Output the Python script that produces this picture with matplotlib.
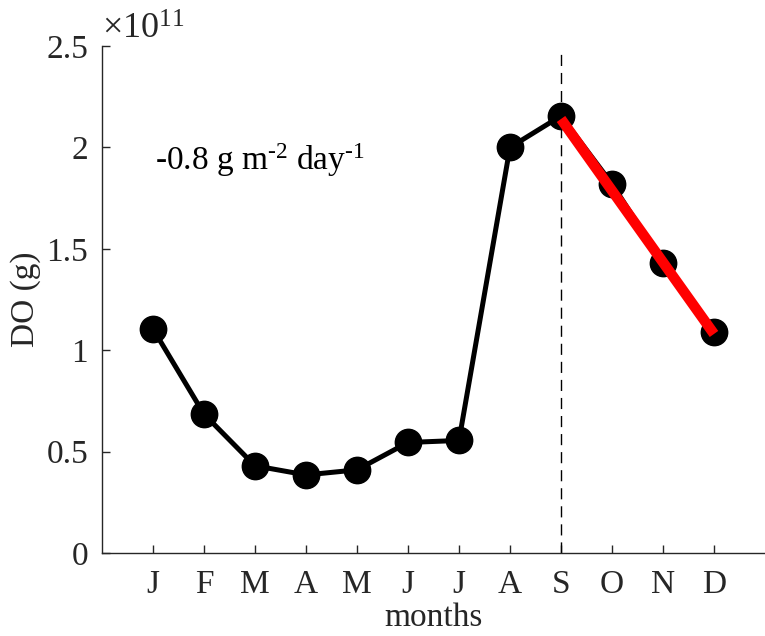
import matplotlib
matplotlib.use("Agg")
import matplotlib.pyplot as plt
import numpy as np

months = ["J", "F", "M", "A", "M", "J", "J", "A", "S", "O", "N", "D"]
do_values = [1.105, 0.685, 0.43, 0.385, 0.41, 0.545, 0.555, 2.0, 2.155, 1.82, 1.43, 1.09]  # x10^11 g
trend_months = [9, 12]
trend_values = [2.14, 1.08]
yticks = [0, 0.5, 1, 1.5, 2, 2.5]
ytick_labels = ["0", "0.5", "1", "1.5", "2", "2.5"]
annot = r"-0.8 g m$^{\text{-}2}$ day$^{\text{-}1}$"

plt.rcParams["font.family"] = ["Liberation Serif", "DejaVu Serif"]
plt.rcParams["mathtext.fontset"] = "custom"
plt.rcParams["mathtext.rm"] = "Liberation Serif"
plt.rcParams["mathtext.it"] = "Liberation Serif:italic"

fig = plt.figure(figsize=(7.65, 6.36), dpi=100)
ax = fig.add_axes([0.1333, 0.1305, 0.8667, 0.7972])

x = np.arange(1, 13)
ax.plot(x, do_values, color="black", lw=3.6, marker="o", ms=19, zorder=3)
ax.plot(trend_months, trend_values, color="#ff0000", lw=7.5, solid_capstyle="butt", zorder=4)
ax.plot([9, 9], [0, 2.47], color="black", lw=1.0, ls=(0, (8, 5)), zorder=2)

ax.set_xlim(0, 13)
ax.set_ylim(0, 2.5)
ax.set_xticks(x)
ax.set_xticklabels(months)
ax.set_yticks(yticks)
ax.set_yticklabels(ytick_labels)
ax.tick_params(direction="in", length=6, width=1, labelsize=24, colors="#262626", labelcolor="#262626", pad=10)
ax.tick_params(axis="x", pad=12)
for s in ["top", "right"]:
    ax.spines[s].set_visible(False)
for s in ["left", "bottom"]:
    ax.spines[s].set_color("#262626")
    ax.spines[s].set_linewidth(1.0)

ax.set_xlabel("months", fontsize=24, color="#262626", labelpad=2)
ax.set_ylabel("DO (g)", fontsize=24, color="#262626", labelpad=4)
ax.text(0.0, 0.998, r"$\times$10$^{11}$", transform=ax.transAxes, fontsize=26, color="#262626", ha="left", va="bottom")
ax.text(0.08, 0.775, annot, transform=ax.transAxes, fontsize=24, color="black", ha="left", va="center")

fig.savefig("out.png", dpi=100)
